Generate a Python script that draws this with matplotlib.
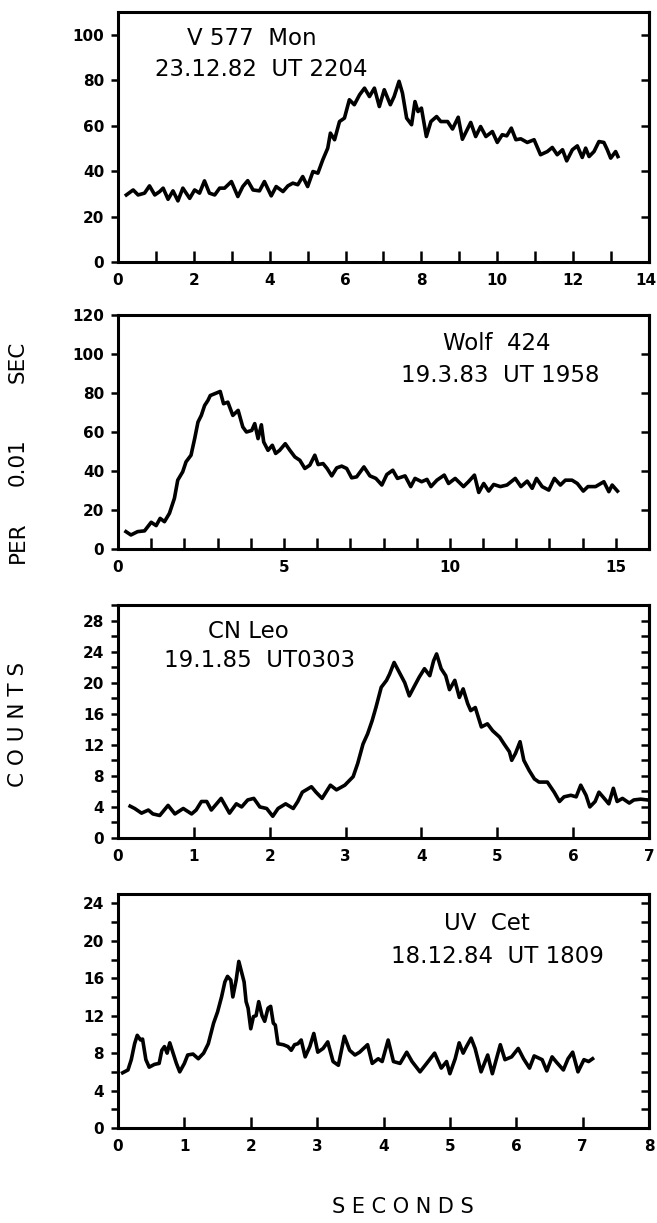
import numpy as np
import matplotlib
matplotlib.use("Agg")
import matplotlib.pyplot as plt
import matplotlib.transforms as mtransforms
from matplotlib.ticker import MultipleLocator

# V 577 Mon, 23.12.82
t1 = [0.22, 0.4, 0.53, 0.7, 0.83, 0.97, 1.1, 1.19, 1.32, 1.45, 1.58, 1.71, 1.89, 2.02, 2.15,
      2.28, 2.41, 2.55, 2.68, 2.81, 2.99, 3.16, 3.29, 3.42, 3.56, 3.73, 3.86, 4.04, 4.17, 4.35,
      4.48, 4.61, 4.74, 4.87, 5.0, 5.14, 5.27, 5.4, 5.53, 5.6, 5.71, 5.84, 5.97, 6.1, 6.23,
      6.37, 6.5, 6.63, 6.76, 6.89, 7.02, 7.18, 7.28, 7.41, 7.5, 7.61, 7.74, 7.83, 7.91, 8.0,
      8.13, 8.25, 8.4, 8.51, 8.69, 8.82, 8.97, 9.08, 9.3, 9.43, 9.56, 9.7, 9.87, 10.0, 10.13,
      10.25, 10.37, 10.49, 10.62, 10.79, 10.97, 11.14, 11.32, 11.45, 11.58, 11.72, 11.83, 11.98,
      12.11, 12.24, 12.33, 12.42, 12.55, 12.68, 12.81, 12.9, 12.99, 13.12, 13.18]
v1 = [29.5, 31.7, 29.5, 30.3, 33.5, 29.5, 31, 32.5, 27.6, 31.3, 26.9, 32.5, 28, 31.7, 30.3,
      35.7, 30.3, 29.5, 32.5, 32.5, 35.4, 28.8, 33.2, 35.8, 31.7, 31.3, 35.4, 29.1, 33.2, 31,
      33.5, 34.7, 34, 37.6, 33.2, 39.8, 39.1, 45, 50.1, 56.7, 53.8, 61.8, 63.3, 71.4, 69.2,
      73.6, 76.5, 72.8, 76.5, 68.4, 75.8, 69.2, 72.8, 79.5, 74.3, 63.3, 60.4, 70.6, 66.2, 67.7,
      55.2, 61.8, 64, 61.8, 61.8, 58.5, 63.7, 54, 61.4, 55.2, 59.6, 55.2, 57.4, 52.6, 56,
      55.5, 58.9, 53.8, 54.2, 52.6, 53.8, 47.2, 48.6, 50.4, 47.2, 49.4, 44.5, 49.4,
      51.1, 46, 50.1, 46.4, 48.6, 53, 52.6, 49.4, 45.7, 48.6, 46.4]

# Wolf 424, 19.3.83
t2 = [0.24, 0.39, 0.59, 0.8, 1.0, 1.15, 1.27, 1.4, 1.55, 1.7,
      1.8, 1.95, 2.05, 2.2, 2.31, 2.41, 2.51, 2.61, 2.71, 2.78,
      2.91, 3.08, 3.18, 3.31, 3.46, 3.62, 3.76, 3.87, 4.03, 4.12,
      4.22, 4.32, 4.39, 4.52, 4.65, 4.75, 4.87, 5.04, 5.18, 5.33,
      5.48, 5.63, 5.78, 5.93, 6.03, 6.18, 6.3, 6.44, 6.59, 6.74,
      6.89, 7.04, 7.19, 7.41, 7.59, 7.77, 7.95, 8.1, 8.28, 8.42,
      8.65, 8.82, 8.95, 9.15, 9.31, 9.43, 9.61, 9.83, 9.96, 10.16,
      10.41, 10.56, 10.74, 10.87, 11.02, 11.17, 11.32, 11.52, 11.72, 11.97,
      12.14, 12.33, 12.48, 12.61, 12.78, 12.98, 13.15, 13.33, 13.48, 13.68,
      13.84, 14.02, 14.16, 14.39, 14.64, 14.79, 14.89, 15.05]
v2 = [8.9, 7.2, 8.9, 9.3, 13.7, 12, 15.7, 14, 18.3, 26,
      35.3, 39.6, 44.7, 48.1, 56.6, 65.1, 68.5, 73.6, 76.2, 78.7,
      79.6, 80.8, 74.5, 75.3, 68.5, 71.1, 62.6, 60, 60.8, 64.3,
      56.6, 63.7, 54.9, 50.6, 53.2, 49, 50.6, 54, 50.6, 47.2,
      45.5, 41.3, 43, 48.1, 43.3, 43.8, 41.3, 37.5, 41.6, 42.5,
      41.3, 36.5, 37, 42.1, 37.5, 36.2, 32.8, 38.2, 40.4, 36.2,
      37.5, 32, 36.2, 34.5, 35.7, 32, 35.3, 37.9, 33.6, 36.2,
      32, 34.5, 37.9, 29, 33.6, 29.7, 33.1, 32, 32.8, 36.2,
      32, 34.8, 31.1, 36.2, 32, 30.2, 36.2, 32.8, 35.3, 35.3,
      33.6, 29.7, 32, 32, 34.5, 29.4, 32.8, 29.7]

# CN Leo, 19.1.85
t3 = [0.16, 0.22, 0.31, 0.4, 0.46, 0.55, 0.66, 0.75, 0.86, 0.97,
      1.03, 1.1, 1.17, 1.23, 1.36, 1.47, 1.56, 1.63, 1.71, 1.79,
      1.87, 1.96, 2.04, 2.11, 2.21, 2.31, 2.37, 2.43, 2.55, 2.61,
      2.69, 2.8, 2.88, 2.99, 3.1, 3.16, 3.23, 3.29, 3.35, 3.4,
      3.47, 3.54, 3.58, 3.64, 3.71, 3.78, 3.84, 3.91, 3.97, 4.04,
      4.11, 4.16, 4.2, 4.26, 4.32, 4.37, 4.44, 4.5, 4.55, 4.61,
      4.65, 4.71, 4.79, 4.87, 4.94, 5.03, 5.09, 5.16, 5.19, 5.24,
      5.3, 5.35, 5.42, 5.49, 5.55, 5.66, 5.75, 5.82, 5.88, 5.97,
      6.04, 6.1, 6.17, 6.22, 6.29, 6.34, 6.41, 6.47, 6.53, 6.58,
      6.65, 6.74, 6.8, 6.89, 6.98]
v3 = [4.1, 3.8, 3.2, 3.6, 3.1, 2.9, 4.2, 3.1, 3.8, 3.1,
      3.6, 4.7, 4.7, 3.6, 5.1, 3.2, 4.4, 4.0, 4.9, 5.1,
      4.0, 3.8, 2.8, 3.8, 4.4, 3.8, 4.7, 5.9, 6.6, 5.9,
      5.1, 6.8, 6.2, 6.8, 7.9, 9.6, 12.1, 13.4, 15.1, 16.8,
      19.4, 20.3, 21.1, 22.6, 21.3, 20, 18.3, 19.6, 20.7, 21.8,
      20.9, 22.8, 23.7, 21.8, 20.9, 19.1, 20.3, 18.1, 19.2, 17.3,
      16.4, 16.8, 14.3, 14.7, 13.8, 13, 12.1, 11.1, 10, 10.9,
      12.4, 10, 8.7, 7.6, 7.2, 7.2, 5.9, 4.7, 5.3, 5.5,
      5.3, 6.8, 5.5, 4.0, 4.7, 5.9, 5.1, 4.4, 6.4, 4.7,
      5.1, 4.5, 4.9, 5.0, 4.9]

# UV Cet, 18.12.84
t4 = [0.07, 0.15, 0.2, 0.25, 0.29, 0.34, 0.37, 0.42, 0.47, 0.55,
      0.62, 0.66, 0.7, 0.74, 0.78, 0.83, 0.88, 0.93, 1.0, 1.05,
      1.13, 1.21, 1.29, 1.36, 1.44, 1.5, 1.56, 1.61, 1.65, 1.7,
      1.73, 1.78, 1.82, 1.86, 1.9, 1.93, 1.96, 2.0, 2.04, 2.08,
      2.12, 2.17, 2.21, 2.26, 2.3, 2.34, 2.37, 2.41, 2.49, 2.56,
      2.61, 2.66, 2.71, 2.76, 2.82, 2.89, 2.95, 3.01, 3.09, 3.16,
      3.24, 3.32, 3.41, 3.49, 3.57, 3.64, 3.76, 3.83, 3.92, 3.98,
      4.07, 4.15, 4.25, 4.35, 4.43, 4.55, 4.65, 4.77, 4.87, 4.95,
      5.0, 5.08, 5.14, 5.2, 5.25, 5.32, 5.38, 5.47, 5.57, 5.64,
      5.76, 5.83, 5.93, 6.03, 6.11, 6.2, 6.27, 6.39, 6.46, 6.54,
      6.61, 6.71, 6.78, 6.85, 6.93, 7.02, 7.09, 7.15]
v4 = [5.9, 6.2, 7.3, 9.0, 9.9, 9.4, 9.5, 7.3, 6.5, 6.8,
      6.9, 8.3, 8.7, 8.0, 9.1, 8.0, 6.9, 6.0, 6.9, 7.8,
      7.9, 7.4, 8.0, 9.0, 11.2, 12.4, 14.0, 15.6, 16.2, 15.8,
      14.0, 15.8, 17.8, 16.7, 15.6, 13.5, 12.8, 10.6, 11.9, 12.0,
      13.5, 12.0, 11.4, 12.8, 13.0, 11.2, 11.0, 9.0, 8.9, 8.7,
      8.3, 8.9, 9.0, 9.4, 7.6, 8.7, 10.1, 8.1, 8.5, 9.2,
      7.1, 6.7, 9.8, 8.3, 7.8, 8.1, 8.9, 6.9, 7.4, 7.1,
      9.4, 7.1, 6.9, 8.1, 7.1, 6.0, 6.9, 8.0, 6.4, 7.1,
      5.8, 7.4, 9.1, 8.0, 8.7, 9.6, 8.5, 6.0, 7.8, 5.8,
      8.9, 7.3, 7.6, 8.5, 7.4, 6.4, 7.7, 7.3, 6.1, 7.6,
      7.0, 6.2, 7.4, 8.1, 6.0, 7.3, 7.1, 7.4]

names = ["V 577  Mon", "Wolf  424", "CN Leo", "UV  Cet"]
dates = ["23.12.82  UT 2204", "19.3.83  UT 1958", "19.1.85  UT0303", "18.12.84  UT 1809"]

W, H = 657, 1223
fig = plt.figure(figsize=(W / 100, H / 100), dpi=100)

# panel boxes in pixels: top, bottom
boxes = [(12, 262), (315, 549), (605, 838), (894, 1128)]
left_px, right_px = 118, 649
xlims = [14, 16, 7, 8]
ylims = [110, 120, 30, 25]
xmajor = [2, 5, 1, 1]
ymajor = [20, 20, 4, 4]
yminor = [20, 20, 2, 2]
rticks = [np.arange(20, 101, 20), np.arange(20, 101, 20), np.arange(2, 29, 2), np.arange(2, 25, 2)]
# text positions (centre x, baseline y) in pixels
name_pos = [(252, 45), (497, 350), (248, 638), (487, 930)]
date_pos = [(261, 76), (500, 382), (260, 667), (497, 963)]

series = [(t1, v1), (t2, v2), (t3, v3), (t4, v4)]

for i, (t, v) in enumerate(series):
    top, bot = boxes[i]
    ax = fig.add_axes([left_px / W, 1 - bot / H, (right_px - left_px) / W, (bot - top) / H])
    ax.plot(t, v, color="black", lw=2.6, solid_joinstyle="round")
    for s in ax.spines.values():
        s.set_linewidth(2.2)
    ax.set_xticks(np.arange(0, xlims[i] + 0.01, xmajor[i]))
    ax.set_yticks(np.arange(0, ylims[i] + 0.01, ymajor[i]))
    ax.xaxis.set_minor_locator(MultipleLocator(1))
    ax.yaxis.set_minor_locator(MultipleLocator(yminor[i]))
    ax.set_xlim(0, xlims[i])
    ax.set_ylim(0, ylims[i])
    ax.tick_params(axis="x", which="both", direction="in", length=8, width=1.8,
                   top=False, pad=8, labelsize=11)
    ax.tick_params(axis="y", which="both", direction="out", length=5, width=1.8,
                   right=False, pad=5, labelsize=11)
    plt.setp(ax.get_xticklabels() + ax.get_yticklabels(), fontweight="bold")
    if i == 0:
        # last label sits on the figure edge; nudge it in a little
        last = ax.get_xticklabels()[-1]
        last.set_transform(last.get_transform() +
                           mtransforms.ScaledTranslation(-3 / 100, 0, fig.dpi_scale_trans))

    sec = ax.secondary_yaxis("right")
    sec.set_yticks(rticks[i], labels=[])
    sec.tick_params(direction="in", length=6, width=1.8)
    sec.spines["right"].set_linewidth(2.2)

    fig.text(name_pos[i][0] / W, 1 - name_pos[i][1] / H, names[i],
             ha="center", va="baseline", fontsize=16.5)
    fig.text(date_pos[i][0] / W, 1 - date_pos[i][1] / H, dates[i],
             ha="center", va="baseline", fontsize=16.5)

# y label, word by word
for word, yc in [("C O U N T S", 724), ("PER", 542), ("0.01", 462), ("SEC", 362)]:
    fig.text(18 / W, 1 - yc / H, word, rotation=90, ha="center", va="center", fontsize=15.5)

fig.text(403 / W, 1 - 1207 / H, "S E C O N D S", ha="center", va="center", fontsize=15)

fig.savefig("out.png", dpi=100)
